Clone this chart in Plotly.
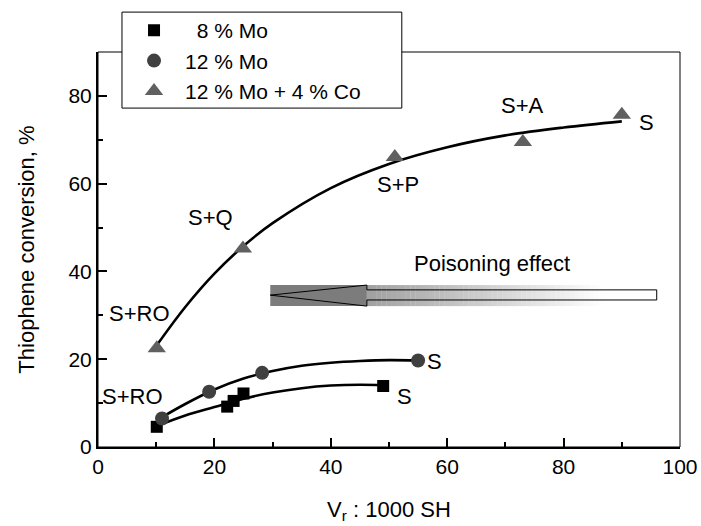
import plotly.graph_objects as go

# ---------------- data ----------------
mo8_x = [10.1, 22.2, 23.3, 25.0, 49.0]
mo8_y = [4.6, 9.2, 10.5, 12.2, 13.9]

mo12_x = [11.0, 19.1, 28.2, 55.0]
mo12_y = [6.5, 12.6, 16.9, 19.7]

moco_x = [10.1, 24.9, 51.0, 73.0, 90.0]
moco_y = [22.5, 45.2, 66.1, 69.5, 75.7]

# fitted curves
fit8_x = [10.5, 15, 20, 25, 30, 35, 40, 45, 49]
fit8_y = [5.0, 7.2, 9.1, 11.0, 12.4, 13.4, 14.0, 14.2, 14.1]

fit12_x = [11, 15, 20, 25, 30, 35, 40, 45, 50, 55]
fit12_y = [6.8, 9.8, 13.1, 15.6, 17.3, 18.5, 19.2, 19.6, 19.8, 19.7]

fitco_x = [10, 15, 20, 25, 30, 40, 50, 60, 70, 80, 90]
fitco_y = [23.0, 31.9, 39.5, 45.8, 51.0, 59.0, 64.5, 68.3, 71.0, 72.8, 74.2]

series_names = ["\u00a0\u00a08 % Mo", "12 % Mo", "12 % Mo + 4 % Co"]

labels_text = ["S+RO", "S+RO", "S+Q", "S+P", "S+A", "S", "S", "S", "Poisoning effect"]
labels_x = [7.2, 6.0, 19.4, 51.5, 72.9, 94.2, 57.9, 52.7, 67.7]
labels_y = [30.5, 11.4, 52.2, 59.7, 77.7, 74.0, 19.4, 11.4, 41.7]

x_ticks = [0, 20, 40, 60, 80, 100]
y_ticks = [0, 20, 40, 60, 80]

FONT = "Liberation Sans, Arial, sans-serif"

fig = go.Figure()

# curves
for fx, fy in [(fitco_x, fitco_y), (fit12_x, fit12_y), (fit8_x, fit8_y)]:
    fig.add_trace(go.Scatter(x=fx, y=fy, mode="lines",
                             line=dict(color="black", width=2.6, shape="spline", smoothing=1.0),
                             showlegend=False, hoverinfo="skip"))

fig.add_trace(go.Scatter(x=mo8_x, y=mo8_y, mode="markers", name=series_names[0],
                         marker=dict(symbol="square", size=12, color="black")))
fig.add_trace(go.Scatter(x=mo12_x, y=mo12_y, mode="markers", name=series_names[1],
                         marker=dict(symbol="circle", size=14, color="#404040")))
fig.add_trace(go.Scatter(x=moco_x, y=moco_y, mode="markers", name=series_names[2],
                         marker=dict(symbol="triangle-up", size=16, color="#606060")))

# ---------- "Poisoning effect" arrow (decoration) ----------
tip_x, head_x, end_x = 29.6, 46.2, 96.0
band_top, band_bot = 36.9, 32.1
shaft_top, shaft_bot = 35.8, 33.5
tip_y = 34.6
shapes = []
shapes.append(dict(type="rect", xref="x", yref="y", x0=tip_x, x1=head_x, y0=band_bot, y1=band_top,
                   fillcolor="#7c7c7c", line=dict(width=0), layer="above"))
n = 60
for i in range(n):
    x0 = head_x + (end_x - head_x) * i / n
    x1 = head_x + (end_x - head_x) * (i + 1) / n
    t = min(1.0, (i + 0.5) / (n * 0.82))
    g = int(round(160 + (255 - 160) * t))
    shapes.append(dict(type="rect", xref="x", yref="y", x0=x0, x1=x1 + 0.05, y0=band_bot, y1=band_top,
                       fillcolor=f"rgb({g},{g},{g})", line=dict(width=0), layer="above"))
path = (f"M {tip_x},{tip_y} L {head_x},{band_top} L {head_x},{shaft_top} L {end_x},{shaft_top} "
        f"L {end_x},{shaft_bot} L {head_x},{shaft_bot} L {head_x},{band_bot} Z")
shapes.append(dict(type="path", xref="x", yref="y", path=path,
                   line=dict(color="black", width=1), fillcolor="rgba(0,0,0,0)", layer="above"))
# thin top/right frame
shapes.append(dict(type="rect", xref="paper", yref="paper", x0=0, x1=1, y0=0, y1=1,
                   line=dict(color="black", width=1), layer="below"))
# legend box (white, covers the frame)
shapes.append(dict(type="rect", xref="paper", yref="paper", x0=0.0412, x1=0.522, y0=0.858, y1=1.101,
                   line=dict(color="black", width=1), fillcolor="white", layer="above"))

annotations = []
for t, ax_, ay_ in zip(labels_text, labels_x, labels_y):
    annotations.append(dict(x=ax_, y=ay_, xref="x", yref="y", text=t, showarrow=False,
                            font=dict(family=FONT, size=22, color="black")))

fig.update_layout(
    width=701, height=526,
    margin=dict(l=98, r=21, t=52, b=79, autoexpand=False),
    paper_bgcolor="white", plot_bgcolor="white",
    font=dict(family=FONT, size=22, color="black"),
    shapes=shapes, annotations=annotations,
    showlegend=True,
    legend=dict(x=0.043, y=1.106, xanchor="left", yanchor="top",
                bgcolor="rgba(0,0,0,0)", borderwidth=0,
                font=dict(family=FONT, size=21, color="black"),
                itemwidth=52, tracegroupgap=0),
    xaxis=dict(range=[0, 100], tickvals=x_ticks, ticktext=[str(v) for v in x_ticks],
               ticks="inside", ticklen=9, tickwidth=1.5, tickcolor="black",
               minor=dict(dtick=10, ticks="inside", ticklen=5, tickwidth=1.5, tickcolor="black"),
               showline=True, linecolor="black", linewidth=2, showgrid=False, zeroline=False,
               automargin=False,
               tickfont=dict(family=FONT, size=21),
               title=dict(text="V<sub>r</sub> : 1000 SH", font=dict(family=FONT, size=22), standoff=24)),
    yaxis=dict(range=[0, 90], tickvals=y_ticks, ticktext=[str(v) for v in y_ticks],
               ticks="inside", ticklen=9, tickwidth=1.5, tickcolor="black",
               minor=dict(dtick=10, ticks="inside", ticklen=5, tickwidth=1.5, tickcolor="black"),
               showline=True, linecolor="black", linewidth=2, showgrid=False, zeroline=False,
               automargin=False,
               tickfont=dict(family=FONT, size=21),
               title=dict(text="Thiophene conversion, %", font=dict(family=FONT, size=22), standoff=28)),
)

fig.write_html("out.html")
